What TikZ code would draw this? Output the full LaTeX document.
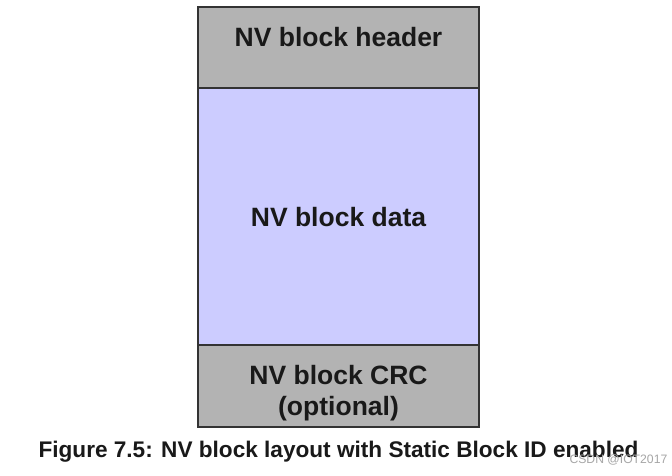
\documentclass[tikz,border=0pt]{standalone}
\usepackage{fontspec}
\setmainfont{Liberation Sans}
\definecolor{boxgray}{HTML}{B3B3B3}
\definecolor{datablue}{HTML}{CCCCFF}
\definecolor{edge}{HTML}{333333}
\begin{document}
\begin{tikzpicture}[x=1pt,y=-1pt,
  part/.style={draw=edge,line width=1.5pt,inner sep=0pt},
  lbl/.style={font=\fontsize{26.5}{30}\selectfont\bfseries,text=black!90,align=center}]
\useasboundingbox[fill=white] (0,0) rectangle (672,475);
\path[part,fill=boxgray] (198,7) rectangle (479,88);
\path[part,fill=datablue] (198,88) rectangle (479,345);
\path[part,fill=boxgray] (198,345) rectangle (479,427);
\node[lbl] (h) at (338.5,37) {NV block header};
\node[lbl] (d) at (338.5,217) {NV block data};
\node[lbl] (c) at (338.5,393) {NV block CRC\\[1pt](optional)};
\node[font=\fontsize{22.6}{26}\selectfont\bfseries,text=black!90] (cap) at (338.5,452) {Figure 7.5: NV block layout with Static Block ID enabled};
\node[font=\fontsize{12.2}{14}\selectfont,text=black!35,anchor=west] (wm) at (566,460) {CSDN @IOT2017};
\end{tikzpicture}
\end{document}
